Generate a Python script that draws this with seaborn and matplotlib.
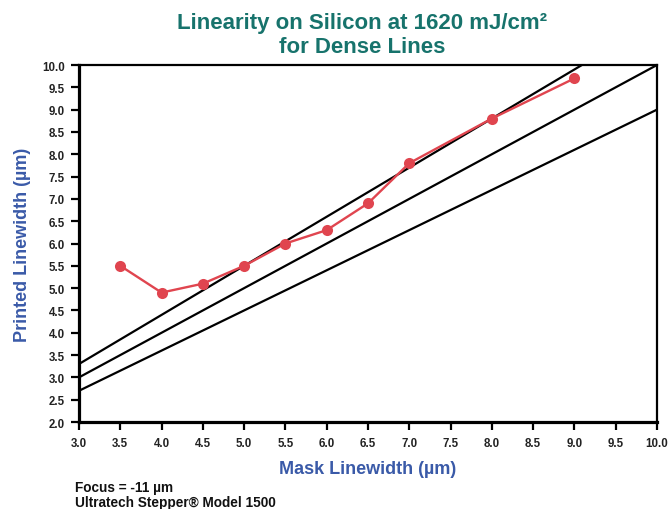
import matplotlib
matplotlib.use("Agg")
import matplotlib.pyplot as plt
import seaborn as sns
import numpy as np
import pandas as pd

mask = [3.5, 4.0, 4.5, 5.0, 5.5, 6.0, 6.5, 7.0, 8.0, 9.0]
printed = [5.5, 4.9, 5.1, 5.5, 6.0, 6.3, 6.9, 7.8, 8.8, 9.7]
ref_factors = [1.1, 1.0, 0.9]
ref_x = [3.0, 10.0]
xticks = [3.0, 3.5, 4.0, 4.5, 5.0, 5.5, 6.0, 6.5, 7.0, 7.5, 8.0, 8.5, 9.0, 9.5, 10.0]
yticks = [2.0, 2.5, 3.0, 3.5, 4.0, 4.5, 5.0, 5.5, 6.0, 6.5, 7.0, 7.5, 8.0, 8.5, 9.0, 9.5, 10.0]

sns.set_style("white")
plt.rcParams['font.family'] = ['Liberation Sans', 'DejaVu Sans']

W, H = 668, 510
fig = plt.figure(figsize=(W / 100, H / 100), dpi=100)
ax = fig.add_axes([79 / W, 1 - 423 / H, (657 - 79) / W, (423 - 66) / H])

for f in ref_factors:
    ref = pd.DataFrame({"x": ref_x, "y": [v * f for v in ref_x]})
    sns.lineplot(data=ref, x="x", y="y", ax=ax, color="black", linewidth=1.6)

df = pd.DataFrame({"mask": mask, "printed": printed})
sns.lineplot(data=df, x="mask", y="printed", ax=ax, color="#e0454f", linewidth=1.7,
             marker="o", markersize=8, markeredgewidth=0, clip_on=False, zorder=5)

ax.set_xlim(3.0, 10.0)
ax.set_ylim(2.0, 10.0)
ax.set_xticks(xticks)
ax.set_yticks(yticks)
ax.set_xticklabels([f"{v:.1f}" for v in xticks], fontsize=8.3, fontweight="bold", color="#222222")
ax.set_yticklabels([f"{v:.1f}" for v in yticks], fontsize=8.3, fontweight="bold", color="#222222")
ax.tick_params(axis="both", direction="out", length=6, width=1.6, color="black", pad=4,
               bottom=True, left=True)
ax.tick_params(axis="x", pad=5)

for s in ["left", "bottom"]:
    ax.spines[s].set_linewidth(2.3)
    ax.spines[s].set_color("black")
for s in ["top", "right"]:
    ax.spines[s].set_linewidth(1.6)
    ax.spines[s].set_color("black")

ax.set_xlabel("Mask Linewidth (µm)", fontsize=13, fontweight="bold", color="#3a5aa8", labelpad=8)
ax.set_ylabel("Printed Linewidth (µm)", fontsize=13, fontweight="bold", color="#3a5aa8", labelpad=8)

fig.text(362 / W, 1 - 29 / H, "Linearity on Silicon at 1620 mJ/cm²", ha="center", va="baseline",
         fontsize=16, fontweight="bold", color="#17736c")
fig.text(362 / W, 1 - 53 / H, "for Dense Lines", ha="center", va="baseline",
         fontsize=16, fontweight="bold", color="#17736c")

fig.text(75 / W, 1 - 492 / H, "Focus = -11 µm", ha="left", va="baseline", fontsize=9.8,
         fontweight="bold", color="#111111")
fig.text(75 / W, 1 - 507.5 / H, "Ultratech Stepper® Model 1500", ha="left", va="baseline", fontsize=9.8,
         fontweight="bold", color="#111111")

fig.savefig("out.png", dpi=100)
